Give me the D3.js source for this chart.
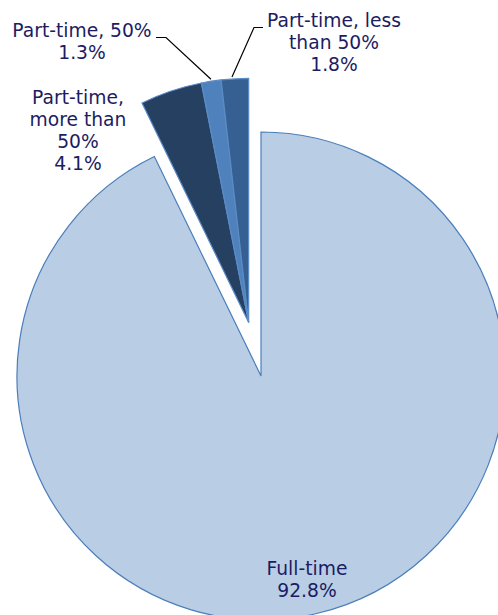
<!DOCTYPE html>
<html><head><meta charset="utf-8">
<script src="https://cdn.jsdelivr.net/npm/d3@7"></script>
<style>body{margin:0;background:#fff}svg{display:block}</style>
</head><body>
<script>
const categories = ["Full-time", "Part-time, more than 50%", "Part-time, 50%", "Part-time, less than 50%"];
const values = [92.8, 4.1, 1.3, 1.8];
const labelLines = [["Full-time", "92.8%"], ["Part-time,", "more than", "50%", "4.1%"], ["Part-time, 50%", "1.3%"], ["Part-time, less", "than 50%", "1.8%"]];
const colors = ["#b9cde5", "#254061", "#4f81bd", "#376092"];

const W = 498, H = 615;
const cx = 261, cy = 376, R = 244, explode = 55;
const svg = d3.select("body").append("svg").attr("width", W).attr("height", H);

const data = categories.map((c, i) => ({ c, v: values[i], i }));
const pie = d3.pie().sort(null).value(d => d.v);
const arcs = pie(data);
const arc = d3.arc().innerRadius(0).outerRadius(R);

// part-time group explode
const part = arcs.slice(1);
const gMid = (part[0].startAngle + part[part.length - 1].endAngle) / 2;
const ox = Math.sin(gMid) * explode, oy = -Math.cos(gMid) * explode;

arcs.forEach((a, i) => {
  const dx = i === 0 ? 0 : ox, dy = i === 0 ? 0 : oy;
  svg.append("path").attr("d", arc(a))
    .attr("transform", `translate(${cx + dx},${cy + dy})`)
    .attr("fill", colors[i])
    .attr("stroke", i === 0 ? "#4a7ebb" : "#5b8cc6")
    .attr("stroke-width", 1.2)
    .attr("stroke-linejoin", "miter");
});

// labels
const labelPos = [[307, 575], [78, 104], [82, 37], [334, 27]];
const lh = 22;
labelLines.forEach((lines, i) => {
  const t = svg.append("text").attr("text-anchor", "middle")
    .attr("font-family", "DejaVu Sans, Verdana, sans-serif")
    .attr("font-size", 18.7).attr("fill", "#1c1c62");
  lines.forEach((l, j) => t.append("tspan").attr("x", labelPos[i][0]).attr("y", labelPos[i][1] + j * lh).text(l));
});

// leader lines: anchored on arc outer edge points
function edgePt(i, frac) {
  const a = arcs[i];
  const ang = a.startAngle + (a.endAngle - a.startAngle) * frac;
  return [cx + ox + Math.sin(ang) * (R + 2), cy + oy - Math.cos(ang) * (R + 2)];
}
const p2 = edgePt(2, 0.5), p3 = edgePt(3, 0.4);
const line = d3.line();
svg.append("path").attr("d", line([[156, 37.5], [166, 37.5], p2])).attr("fill", "none").attr("stroke", "#000").attr("stroke-width", 1.2);
svg.append("path").attr("d", line([[263, 27.5], [254, 27.5], p3])).attr("fill", "none").attr("stroke", "#000").attr("stroke-width", 1.2);
</script>
</body></html>
